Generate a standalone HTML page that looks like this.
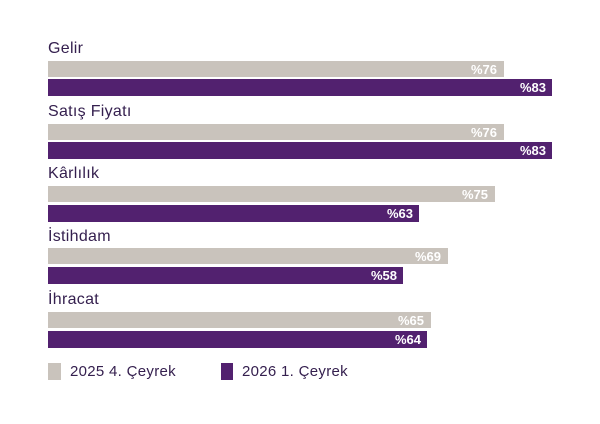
<!DOCTYPE html>
<html>
<head>
<meta charset="utf-8">
<style>
  html, body { margin:0; padding:0; background:#ffffff; }
  body { width:600px; height:424px; position:relative; overflow:hidden;
         font-family:"Liberation Sans", sans-serif; }
  .lbl { position:absolute; left:48px; font-size:16px; color:#35204f; line-height:16px; letter-spacing:0.3px; }
  .bar { position:absolute; left:48px; }
  .g { background:#c9c3bc; height:16px; }
  .p { background:#52216f; height:17px; }
  .v { position:absolute; right:6px; top:0; bottom:0; display:flex; align-items:center;
       color:#ffffff; font-weight:bold; font-size:13px; }
  .leg { position:absolute; top:363px; height:17px; }
  .legt { position:absolute; top:363px; font-size:15px; color:#35204f; line-height:17px; letter-spacing:0.3px; }
</style>
</head>
<body>
  <div class="lbl" style="top:41px;">Gelir</div>
  <div class="bar g" style="top:61px; width:456px;"><span class="v" style="right:7px;">%76</span></div>
  <div class="bar p" style="top:79px; width:504px;"><span class="v">%83</span></div>

  <div class="lbl" style="top:104px;">Satış Fiyatı</div>
  <div class="bar g" style="top:124px; width:456px;"><span class="v" style="right:7px;">%76</span></div>
  <div class="bar p" style="top:142px; width:504px;"><span class="v">%83</span></div>

  <div class="lbl" style="top:166px;">Kârlılık</div>
  <div class="bar g" style="top:186px; width:447px;"><span class="v" style="right:7px;">%75</span></div>
  <div class="bar p" style="top:205px; width:371px;"><span class="v">%63</span></div>

  <div class="lbl" style="top:229px;">İstihdam</div>
  <div class="bar g" style="top:248px; width:400px;"><span class="v" style="right:7px;">%69</span></div>
  <div class="bar p" style="top:267px; width:355px;"><span class="v">%58</span></div>

  <div class="lbl" style="top:292px;">İhracat</div>
  <div class="bar g" style="top:312px; width:383px;"><span class="v" style="right:7px;">%65</span></div>
  <div class="bar p" style="top:331px; width:379px;"><span class="v">%64</span></div>

  <div class="leg" style="left:48px; width:13px; background:#c9c3bc;"></div>
  <div class="legt" style="left:70px;">2025 4. Çeyrek</div>
  <div class="leg" style="left:221px; width:12px; background:#52216f;"></div>
  <div class="legt" style="left:242px;">2026 1. Çeyrek</div>
</body>
</html>
